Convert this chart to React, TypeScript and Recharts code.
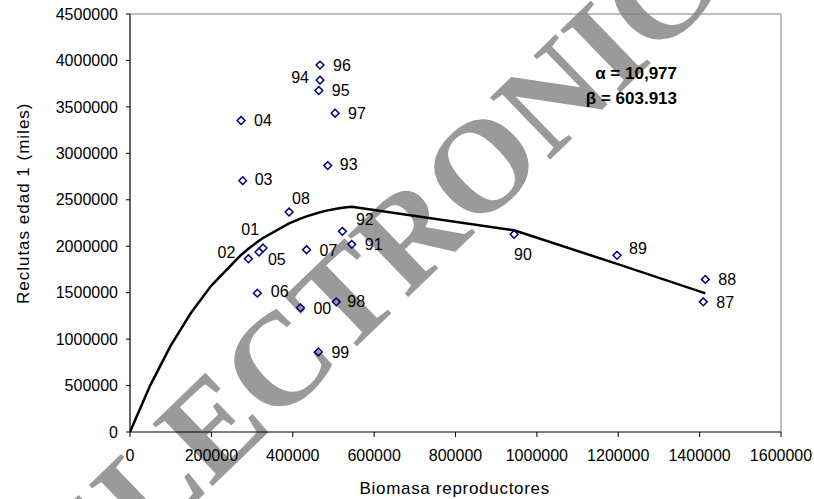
import React from 'react';
import { ScatterChart, Scatter, XAxis, YAxis, ReferenceLine } from 'recharts';

// Observed stock-recruitment points (year labels)
const yearLabels = ['87', '88', '89', '90', '91', '92', '93', '94', '95', '96', '97', '98', '99', '00', '01', '02', '03', '04', '05', '06', '07', '08'];
const spawningBiomass = [1409000, 1414000, 1197000, 944000, 545000, 522000, 486000, 467000, 464000, 467000, 504000, 507000, 463000, 419000, 327000, 291000, 277000, 273000, 317000, 313000, 434000, 391000];
const recruits = [1401000, 1643000, 1902000, 2128000, 2020000, 2160000, 2868000, 3788000, 3676000, 3950000, 3432000, 1401000, 862000, 1337000, 1980000, 1865000, 2706000, 3353000, 1937000, 1495000, 1962000, 2368000];

// Fitted curve
const curveBiomass = [0, 50000, 100000, 150000, 200000, 273000, 277000, 291000, 313000, 317000, 327000, 391000, 419000, 434000, 463000, 464000, 467000, 486000, 504000, 507000, 522000, 545000, 944000, 1197000, 1409000, 1414000];
const curveRecruits = [0, 505000, 930000, 1284000, 1576000, 1907000, 1922000, 1973000, 2046000, 2059000, 2089000, 2246000, 2298000, 2322000, 2361000, 2362000, 2366000, 2386000, 2401000, 2404000, 2414000, 2426000, 2171000, 1810000, 1500000, 1493000];

const xTicks = [0, 200000, 400000, 600000, 800000, 1000000, 1200000, 1400000, 1600000];
const yTicks = [0, 500000, 1000000, 1500000, 2000000, 2500000, 3000000, 3500000, 4000000, 4500000];

const xTitle = 'Biomasa reproductores';
const yTitle = 'Reclutas edad 1 (miles)';
const alphaText = 'α = 10,977';
const betaText = 'β = 603.913';
const watermarkText = 'ELECTRONICA';

const points = yearLabels.map((label, i) => ({ label, x: spawningBiomass[i], y: recruits[i] }));
const curve = curveBiomass.map((x, i) => ({ x, y: curveRecruits[i] }));

const FONT = '"Liberation Sans", Arial, sans-serif';

type Placement = { dx: number; dy: number; anchor: 'start' | 'end' };
const defaultPlacement: Placement = { dx: 13, dy: 0, anchor: 'start' };
const labelPlacement: Record<string, Placement> = {
  '94': { dx: -11, dy: -3, anchor: 'end' },
  '08': { dx: 3, dy: -14, anchor: 'start' },
  '01': { dx: -4, dy: -19, anchor: 'end' },
  '02': { dx: -13, dy: -7, anchor: 'end' },
  '05': { dx: 9, dy: 7, anchor: 'start' },
  '92': { dx: 13.5, dy: -12, anchor: 'start' },
  '89': { dx: 12, dy: -7, anchor: 'start' },
  '90': { dx: 0, dy: 20, anchor: 'start' },
  '06': { dx: 13.5, dy: -2, anchor: 'start' },
  '98': { dx: 11, dy: -1, anchor: 'start' },
  '93': { dx: 12, dy: -1, anchor: 'start' },
  '03': { dx: 12, dy: -1, anchor: 'start' },
};

const DiamondWithLabel = (props: any) => {
  const { cx, cy, payload } = props;
  if (cx == null || cy == null) return <g />;
  const p = labelPlacement[payload.label] ?? defaultPlacement;
  const r = 3.9;
  return (
    <g>
      <polygon
        points={`${cx},${cy - r} ${cx + r},${cy} ${cx},${cy + r} ${cx - r},${cy}`}
        fill="none"
        stroke="#000080"
        strokeWidth={1.5}
      />
      <text
        x={cx + p.dx}
        y={cy + p.dy}
        dy="0.36em"
        textAnchor={p.anchor}
        fontSize={16}
        fontFamily={FONT}
        fill="#000"
      >
        {payload.label}
      </text>
    </g>
  );
};

const NoShape = () => <g />;

export default function App() {
  return (
    <div style={{ position: 'absolute', left: 0, top: 0, width: 814, height: 499, background: '#fff', overflow: 'hidden' }}>
      <svg width={814} height={499} style={{ position: 'absolute', left: 0, top: 0 }}>
        <text
          x={84}
          y={610}
          transform="rotate(-44 84 610)"
          fontFamily='"Liberation Serif", "Times New Roman", serif'
          fontWeight="bold"
          fontSize={132}
          fill="#9a9a9a"
        >
          {watermarkText}
        </text>
      </svg>
      <div style={{ position: 'absolute', left: 0, top: 0 }}>
        <ScatterChart width={814} height={499} margin={{ top: 14, right: 33, bottom: 0, left: 0 }}>
          <XAxis
            type="number"
            dataKey="x"
            domain={[0, 1600000]}
            ticks={xTicks}
            interval={0}
            tickSize={5}
            tickMargin={13}
            height={67}
            axisLine={{ stroke: '#000', strokeWidth: 1.2 }}
            tickLine={{ stroke: '#000' }}
            tick={{ fontSize: 16, fill: '#000', fontFamily: FONT }}
            allowDataOverflow
          />
          <YAxis
            type="number"
            dataKey="y"
            domain={[0, 4500000]}
            ticks={yTicks}
            interval={0}
            tickSize={4}
            tickMargin={8}
            width={130}
            axisLine={{ stroke: '#000', strokeWidth: 1.2 }}
            tickLine={{ stroke: '#000' }}
            tick={{ fontSize: 16, fill: '#000', fontFamily: FONT }}
            allowDataOverflow
          />
          <ReferenceLine y={4500000} stroke="#808080" strokeWidth={1} />
          <ReferenceLine x={1600000} stroke="#808080" strokeWidth={1} />
          <Scatter
            data={curve}
            line={{ stroke: '#000', strokeWidth: 2.5 }}
            lineJointType="linear"
            shape={NoShape}
            stroke="#000"
            fill="none"
            isAnimationActive={false}
            legendType="none"
          />
          <Scatter
            data={points}
            shape={DiamondWithLabel}
            isAnimationActive={false}
            legendType="none"
          />
        </ScatterChart>
      </div>
      <svg width={814} height={499} style={{ position: 'absolute', left: 0, top: 0, pointerEvents: 'none' }}>
        <text x={454.7} y={494} textAnchor="middle" fontSize={17} fontFamily={FONT} letterSpacing={0.7} fill="#000">
          {xTitle}
        </text>
        <text
          x={29}
          y={203.3}
          transform="rotate(-90 29 203.3)"
          textAnchor="middle"
          fontSize={17}
          fontFamily={FONT}
          letterSpacing={1}
          fill="#000"
        >
          {yTitle}
        </text>
        <text x={677} y={79} textAnchor="end" fontSize={17} fontWeight="bold" fontFamily={FONT} fill="#000">
          {alphaText}
        </text>
        <text x={677} y={104} textAnchor="end" fontSize={17} fontWeight="bold" fontFamily={FONT} fill="#000">
          {betaText}
        </text>
      </svg>
    </div>
  );
}
